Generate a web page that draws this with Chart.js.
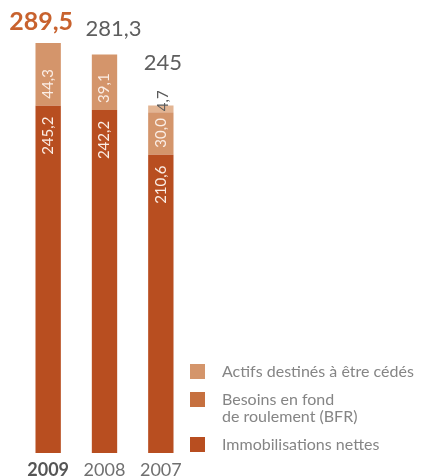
<!DOCTYPE html>
<html lang="fr">
<head>
  <meta charset="UTF-8">
  <title>Capitaux employés</title>
  <script src="https://cdn.jsdelivr.net/npm/chart.js"></script>
  <style>
    body {
      margin: 0;
      background: #fff;
    }
    canvas {
      display: block;
    }
  </style>
</head>
<body>
  <canvas id="chart" width="422" height="476"></canvas>

  <script>
    const years = ['2009', '2008', '2007'];
    const immobilisations = [245.2, 242.2, 210.6];
    const bfr = [44.3, 39.1, 30.0];
    const actifs = [null, null, 4.7];
    const totals = ['289,5', '281,3', '245'];

    const FONT = 'Lato, "Open Sans", sans-serif';
    const fmt = v => v.toFixed(1).replace('.', ',');

    // legend, top to bottom
    const legendItems = [
      { text: ['Actifs destinés à être cédés'], color: '#d4956b', y: 364 },
      { text: ['Besoins en fond', 'de roulement (BFR)'], color: '#c6703f', y: 392 },
      { text: ['Immobilisations nettes'], color: '#b84e20', y: 437 }
    ];

    // values written vertically inside each segment
    const segmentLabels = {
      id: 'segmentLabels',
      afterDatasetsDraw(chart) {
        const ctx = chart.ctx;
        ctx.save();
        ctx.font = '15px ' + FONT;
        ctx.textBaseline = 'middle';
        chart.data.datasets.forEach((ds, di) => {
          const meta = chart.getDatasetMeta(di);
          meta.data.forEach((bar, i) => {
            const v = ds.data[i];
            if (v == null) return;
            ctx.save();
            if (di === 0) {
              ctx.translate(bar.x, bar.y + 11);
              ctx.textAlign = 'right';
              ctx.fillStyle = '#fbeee6';
            } else if (di === 1) {
              ctx.translate(bar.x, bar.base - 7);
              ctx.textAlign = 'left';
              ctx.fillStyle = '#fbeee6';
            } else {
              ctx.translate(bar.x + 2, bar.base - 1);
              ctx.textAlign = 'left';
              ctx.fillStyle = '#5a5a5a';
            }
            ctx.rotate(-Math.PI / 2);
            ctx.fillText(fmt(v), 0, 0);
            ctx.restore();
          });
        });
        ctx.restore();
      }
    };

    // totals above each stack
    const totalLabels = {
      id: 'totalLabels',
      afterDatasetsDraw(chart) {
        const ctx = chart.ctx;
        const dx = [-7, 9, 2];
        const gap = [13, 18, 35];
        ctx.save();
        ctx.textAlign = 'center';
        ctx.textBaseline = 'alphabetic';
        years.forEach((y, i) => {
          let top = Infinity, x = 0;
          chart.data.datasets.forEach((ds, di) => {
            if (ds.data[i] == null) return;
            const bar = chart.getDatasetMeta(di).data[i];
            top = Math.min(top, bar.y);
            x = bar.x;
          });
          if (i === 0) {
            ctx.font = 'bold 25px ' + FONT;
            ctx.fillStyle = '#c8622e';
          } else {
            ctx.font = '22px ' + FONT;
            ctx.fillStyle = '#5e5e5e';
          }
          ctx.fillText(totals[i], x + dx[i], top - gap[i]);
        });
        ctx.restore();
      }
    };

    const sideLegend = {
      id: 'sideLegend',
      afterDraw(chart) {
        const ctx = chart.ctx;
        ctx.save();
        ctx.font = '16px ' + FONT;
        ctx.textAlign = 'left';
        ctx.textBaseline = 'alphabetic';
        legendItems.forEach(item => {
          ctx.fillStyle = item.color;
          ctx.fillRect(190, item.y, 15, 15);
          ctx.fillStyle = '#858585';
          item.text.forEach((line, k) => {
            ctx.fillText(line, 222, item.y + 13 + k * 17);
          });
        });
        ctx.restore();
      }
    };

    new Chart(document.getElementById('chart'), {
      type: 'bar',
      data: {
        labels: years,
        datasets: [
          { label: 'Immobilisations nettes', data: immobilisations, backgroundColor: '#b84e20' },
          { label: 'Besoins en fond de roulement (BFR)', data: bfr, backgroundColor: '#d4956b' },
          { label: 'Actifs destinés à être cédés', data: actifs, backgroundColor: '#e3b593' }
        ]
      },
      options: {
        responsive: false,
        animation: false,
        layout: { padding: { left: 20, right: 233, top: 28, bottom: 0 } },
        datasets: {
          bar: { categoryPercentage: 1, barPercentage: 0.45 }
        },
        plugins: {
          legend: { display: false },
          tooltip: { enabled: false }
        },
        scales: {
          x: {
            stacked: true,
            grid: { display: false, drawTicks: false },
            border: { display: false },
            afterFit: s => { s.height = 23; },
            ticks: {
              padding: 6,
              font: c => ({ family: FONT, size: 18, weight: c.index === 0 ? 'bold' : 'normal' }),
              color: c => c.index === 0 ? '#555555' : '#707070'
            }
          },
          y: {
            stacked: true,
            display: false,
            min: 0,
            max: 300
          }
        }
      },
      plugins: [segmentLabels, totalLabels, sideLegend]
    });
  </script>
</body>
</html>
